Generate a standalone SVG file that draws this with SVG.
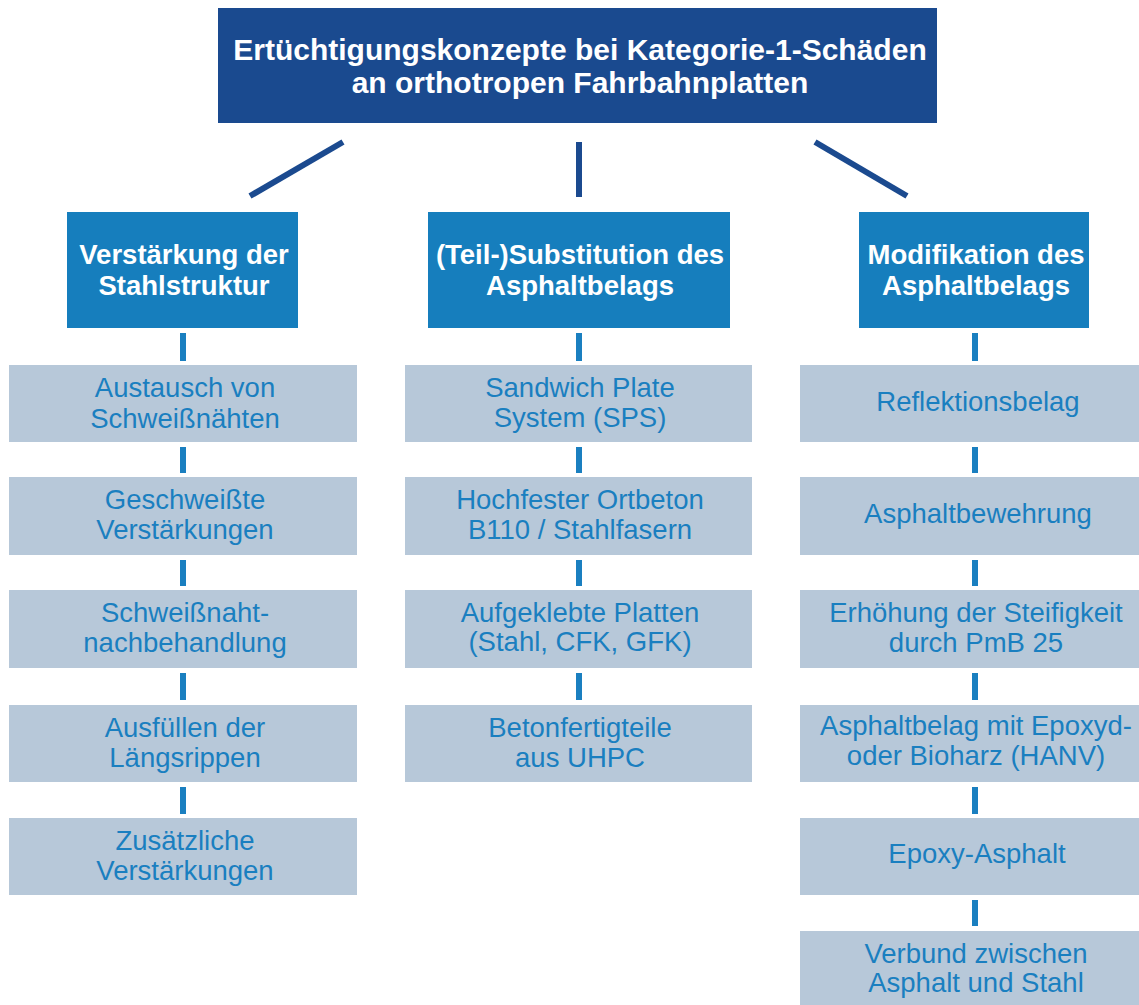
<svg xmlns="http://www.w3.org/2000/svg" width="1139" height="1005" viewBox="0 0 1139 1005">
<style>
.root{fill:#1a4a8f}
.cat{fill:#167ebd}
.leaf{fill:#b7c8d9}
.tr{font-family:"Liberation Sans",Arial,sans-serif;font-weight:bold;font-size:30px;fill:#fff;text-anchor:middle}
.tc{font-family:"Liberation Sans",Arial,sans-serif;font-weight:bold;font-size:27.5px;fill:#fff;text-anchor:middle}
.tl{font-family:"Liberation Sans",Arial,sans-serif;font-size:27.5px;fill:#1a7fc0;text-anchor:middle}
.top{stroke:#1b4a8f;stroke-width:6;fill:none}
.bar{fill:#1a7fc0}
</style>
<rect width="1139" height="1005" fill="#fff"/>
<g id="connectors">
<line class="top" x1="343" y1="142" x2="250" y2="196"/>
<line class="top" x1="579" y1="142" x2="579" y2="197"/>
<line class="top" x1="815" y1="142" x2="907" y2="196"/>
<g class="bar">
<rect x="180" y="333" width="6" height="28"/>
<rect x="180" y="447" width="6" height="26"/>
<rect x="180" y="560" width="6" height="26"/>
<rect x="180" y="673" width="6" height="27"/>
<rect x="180" y="787" width="6" height="27"/>
<rect x="576" y="333" width="6" height="28"/>
<rect x="576" y="447" width="6" height="26"/>
<rect x="576" y="560" width="6" height="26"/>
<rect x="576" y="673" width="6" height="27"/>
<rect x="972" y="333" width="6" height="28"/>
<rect x="972" y="447" width="6" height="26"/>
<rect x="972" y="560" width="6" height="26"/>
<rect x="972" y="673" width="6" height="27"/>
<rect x="972" y="787" width="6" height="27"/>
<rect x="972" y="900" width="6" height="26"/>
</g>
</g>
<g id="root">
<rect class="root" x="218" y="8" width="719" height="115"/>
<text class="tr" x="580" y="60">Ertüchtigungskonzepte bei Kategorie-1-Schäden</text>
<text class="tr" x="580" y="93">an orthotropen Fahrbahnplatten</text>
</g>
<g id="cat1">
<rect class="cat" x="67" y="212" width="231" height="116"/>
<text class="tc" x="184" y="264">Verstärkung der</text>
<text class="tc" x="184" y="295">Stahlstruktur</text>
</g>
<g id="cat2">
<rect class="cat" x="428" y="212" width="302" height="116"/>
<text class="tc" x="580" y="264">(Teil-)Substitution des</text>
<text class="tc" x="580" y="295">Asphaltbelags</text>
</g>
<g id="cat3">
<rect class="cat" x="859" y="212" width="230" height="116"/>
<text class="tc" x="976" y="264">Modifikation des</text>
<text class="tc" x="976" y="295">Asphaltbelags</text>
</g>
<g id="l1">
<rect class="leaf" x="9" y="365" width="348" height="77"/>
<text class="tl" x="185" y="397">Austausch von</text>
<text class="tl" x="185" y="428">Schweißnähten</text>
</g>
<g id="l2">
<rect class="leaf" x="9" y="477" width="348" height="78"/>
<text class="tl" x="185" y="509">Geschweißte</text>
<text class="tl" x="185" y="539">Verstärkungen</text>
</g>
<g id="l3">
<rect class="leaf" x="9" y="590" width="348" height="78"/>
<text class="tl" x="185" y="622">Schweißnaht-</text>
<text class="tl" x="185" y="652">nachbehandlung</text>
</g>
<g id="l4">
<rect class="leaf" x="9" y="705" width="348" height="77"/>
<text class="tl" x="185" y="737">Ausfüllen der</text>
<text class="tl" x="185" y="767">Längsrippen</text>
</g>
<g id="l5">
<rect class="leaf" x="9" y="818" width="348" height="77"/>
<text class="tl" x="185" y="850">Zusätzliche</text>
<text class="tl" x="185" y="880">Verstärkungen</text>
</g>
<g id="m1">
<rect class="leaf" x="405" y="365" width="347" height="77"/>
<text class="tl" x="580" y="397">Sandwich Plate</text>
<text class="tl" x="580" y="427">System (SPS)</text>
</g>
<g id="m2">
<rect class="leaf" x="405" y="477" width="347" height="78"/>
<text class="tl" x="580" y="509">Hochfester Ortbeton</text>
<text class="tl" x="580" y="539">B110 / Stahlfasern</text>
</g>
<g id="m3">
<rect class="leaf" x="405" y="590" width="347" height="78"/>
<text class="tl" x="580" y="622">Aufgeklebte Platten</text>
<text class="tl" x="580" y="651">(Stahl, CFK, GFK)</text>
</g>
<g id="m4">
<rect class="leaf" x="405" y="705" width="347" height="77"/>
<text class="tl" x="580" y="737">Betonfertigteile</text>
<text class="tl" x="580" y="767">aus UHPC</text>
</g>
<g id="r1">
<rect class="leaf" x="800" y="365" width="339" height="77"/>
<text class="tl" x="978" y="411">Reflektionsbelag</text>
</g>
<g id="r2">
<rect class="leaf" x="800" y="477" width="339" height="78"/>
<text class="tl" x="978" y="523">Asphaltbewehrung</text>
</g>
<g id="r3">
<rect class="leaf" x="800" y="590" width="339" height="78"/>
<text class="tl" x="976" y="622">Erhöhung der Steifigkeit</text>
<text class="tl" x="976" y="652">durch PmB 25</text>
</g>
<g id="r4">
<rect class="leaf" x="800" y="705" width="339" height="77"/>
<text class="tl" x="976" y="735">Asphaltbelag mit Epoxyd-</text>
<text class="tl" x="976" y="765">oder Bioharz (HANV)</text>
</g>
<g id="r5">
<rect class="leaf" x="800" y="818" width="339" height="77"/>
<text class="tl" x="977" y="863">Epoxy-Asphalt</text>
</g>
<g id="r6">
<rect class="leaf" x="800" y="931" width="339" height="74"/>
<text class="tl" x="976" y="963">Verbund zwischen</text>
<text class="tl" x="976" y="992">Asphalt und Stahl</text>
</g>
</svg>
